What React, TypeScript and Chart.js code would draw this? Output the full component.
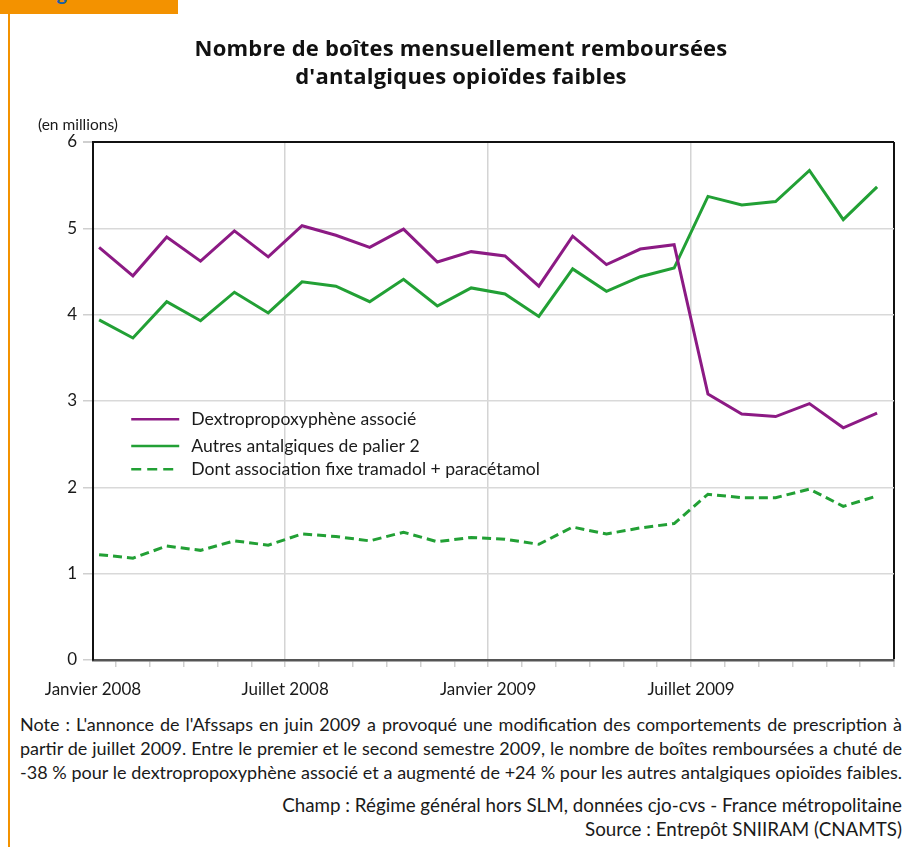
import React, { useEffect, useRef } from "react";
import { Chart, registerables } from "chart.js";

Chart.register(...registerables);

const months = [
  "Janvier 2008", "Février 2008", "Mars 2008", "Avril 2008", "Mai 2008", "Juin 2008",
  "Juillet 2008", "Août 2008", "Septembre 2008", "Octobre 2008", "Novembre 2008", "Décembre 2008",
  "Janvier 2009", "Février 2009", "Mars 2009", "Avril 2009", "Mai 2009", "Juin 2009",
  "Juillet 2009", "Août 2009", "Septembre 2009", "Octobre 2009", "Novembre 2009", "Décembre 2009",
];

const dextro = [4.78, 4.45, 4.90, 4.62, 4.97, 4.67, 5.03, 4.92, 4.78, 4.99, 4.61, 4.73, 4.68, 4.33, 4.91, 4.58, 4.76, 4.81, 3.08, 2.85, 2.82, 2.97, 2.69, 2.86];
const autres = [3.94, 3.73, 4.15, 3.93, 4.26, 4.02, 4.38, 4.33, 4.15, 4.41, 4.10, 4.31, 4.24, 3.98, 4.53, 4.27, 4.44, 4.54, 5.37, 5.27, 5.31, 5.67, 5.10, 5.48];
const tramadol = [1.22, 1.18, 1.32, 1.27, 1.38, 1.33, 1.46, 1.43, 1.38, 1.48, 1.37, 1.42, 1.40, 1.34, 1.54, 1.46, 1.53, 1.58, 1.92, 1.88, 1.88, 1.98, 1.78, 1.90];

const seriesNames = [
  "Dextropropoxyphène associé",
  "Autres antalgiques de palier 2",
  "Dont association fixe tramadol + paracétamol",
];

const labelMonths = ["Janvier 2008", "Juillet 2008", "Janvier 2009", "Juillet 2009"];

const PURPLE = "#8c1a84";
const GREEN = "#22a035";
const FONT = "Lato";
const X_MIN = -0.18;
const X_MAX = months.length - 0.5;

const legendPlugin = {
  id: "insideLegend",
  afterDraw(chart: any) {
    const { ctx, scales } = chart;
    const xs = scales.x;
    const ys = scales.y;
    const x0 = xs.getPixelForValue(0.95);
    const x1 = x0 + 48;
    const rowsY = [ys.getPixelForValue(2.79), ys.getPixelForValue(2.48), ys.getPixelForValue(2.21)];
    ctx.save();
    chart.data.datasets.forEach((ds: any, i: number) => {
      const y = rowsY[i];
      ctx.beginPath();
      ctx.strokeStyle = ds.borderColor;
      ctx.lineWidth = 2.5;
      ctx.setLineDash(ds.borderDash ? [10, 6] : []);
      ctx.moveTo(x0, y);
      ctx.lineTo(x1, y);
      ctx.stroke();
      ctx.setLineDash([]);
      ctx.fillStyle = "#1a1a1a";
      ctx.font = `17.6px ${FONT}`;
      ctx.textBaseline = "middle";
      ctx.textAlign = "left";
      ctx.fillText(ds.label, x1 + 12, y);
    });
    ctx.restore();
  },
};

export default function App() {
  const ref = useRef<HTMLCanvasElement | null>(null);

  useEffect(() => {
    if (!ref.current) return;
    const labelPositions = labelMonths.map((m) => Math.max(months.indexOf(m) - 0.5, X_MIN));
    const gridMarks = labelPositions.filter((v) => v > X_MIN);
    const mk = (arr: number[]) => arr.map((y, i) => ({ x: i, y }));
    const chart = new Chart(ref.current, {
      type: "line",
      data: {
        datasets: [
          { label: seriesNames[0], data: mk(dextro), borderColor: PURPLE, borderWidth: 3, pointRadius: 0, fill: false, tension: 0 },
          { label: seriesNames[1], data: mk(autres), borderColor: GREEN, borderWidth: 3, pointRadius: 0, fill: false, tension: 0 },
          { label: seriesNames[2], data: mk(tramadol), borderColor: GREEN, borderWidth: 3, borderDash: [9, 5], pointRadius: 0, fill: false, tension: 0 },
        ],
      },
      options: {
        animation: false,
        responsive: true,
        maintainAspectRatio: false,
        layout: { padding: { top: 142, right: 4, left: 0, bottom: 0 } },
        plugins: { legend: { display: false }, tooltip: { enabled: false }, title: { display: false } },
        scales: {
          x: {
            type: "linear",
            min: X_MIN,
            max: X_MAX,
            afterFit: (s: any) => { s.height = 40; },
            afterBuildTicks: (s: any) => {
              const t: any[] = [{ value: X_MIN }];
              for (let i = 0; i < months.length; i++) t.push({ value: i + 0.5 });
              s.ticks = t;
            },
            ticks: {
              autoSkip: false,
              maxRotation: 0,
              minRotation: 0,
              padding: 12,
              color: "#1a1a1a",
              font: { family: FONT, size: 17 },
              callback: (v: any) => {
                const idx = labelPositions.findIndex((p) => Math.abs(p - v) < 1e-6);
                return idx >= 0 ? labelMonths[idx] : "";
              },
            },
            grid: {
              drawOnChartArea: true,
              tickLength: 7,
              lineWidth: (c: any) => (Math.abs(c.tick?.value - X_MAX) < 1e-6 ? 2 : 1.5),
              color: (c: any) => {
                const v = c.tick?.value;
                if (v === undefined) return "transparent";
                if (Math.abs(v - X_MAX) < 1e-6) return "#111";
                if (gridMarks.some((g) => Math.abs(g - v) < 1e-6)) return "#d4d4d4";
                return "transparent";
              },
              tickColor: (c: any) => (Math.abs(c.tick?.value - X_MIN) < 1e-6 ? "transparent" : "#cfcfcf"),
            },
            border: { display: true, color: "#555", width: 2.5 },
          },
          y: {
            min: 0,
            max: 6,
            afterFit: (s: any) => { s.width = 93; },
            ticks: {
              stepSize: 1,
              padding: 6,
              color: "#1a1a1a",
              font: { family: FONT, size: 17 },
            },
            grid: {
              tickLength: 10,
              lineWidth: (c: any) => (c.tick?.value === 6 ? 2 : 1.5),
              color: (c: any) => {
                const v = c.tick?.value;
                if (v === 6) return "#111";
                if (v === 0) return "transparent";
                return "#d9d9d9";
              },
              tickColor: "#cfcfcf",
            },
            border: { display: true, color: "#111", width: 2 },
          },
        },
      },
      plugins: [legendPlugin],
    });
    return () => chart.destroy();
  }, []);

  const noteLine: React.CSSProperties = {
    position: "absolute",
    left: 20,
    width: 882,
    fontFamily: FONT,
    fontSize: 18,
    lineHeight: "24px",
    color: "#1a1a1a",
    textAlign: "justify",
    textAlignLast: "justify" as any,
    whiteSpace: "nowrap",
  };
  const rightLine: React.CSSProperties = {
    position: "absolute",
    right: 4,
    fontFamily: FONT,
    fontSize: 18.8,
    lineHeight: "24px",
    color: "#1a1a1a",
    textAlign: "right",
    whiteSpace: "nowrap",
  };

  return (
    <div style={{ position: "absolute", left: 0, top: 0, width: 906, height: 847, background: "#fff", overflow: "hidden" }}>
      <div style={{ position: "absolute", left: 0, top: 0, width: 178, height: 14, background: "#f39200", overflow: "hidden" }}>
        <div style={{ position: "absolute", left: 40, top: -20, fontFamily: FONT, fontWeight: 700, fontSize: 20, color: "#1b5fa3", lineHeight: "24px", whiteSpace: "nowrap" }}>Figure 1</div>
      </div>
      <div style={{ position: "absolute", left: 8, top: 14, width: 2, height: 833, background: "#f39200" }} />
      <div style={{ position: "absolute", left: 0, top: 0, width: 906, height: 700 }}>
        <canvas ref={ref} />
      </div>
      <div style={{ position: "absolute", left: 111, width: 700, top: 33, textAlign: "center", fontFamily: "Open Sans", fontWeight: 700, fontSize: 22, letterSpacing: "0.2px", lineHeight: "28px", color: "#111" }}>
        Nombre de boîtes mensuellement remboursées<br />d'antalgiques opioïdes faibles
      </div>
      <div style={{ position: "absolute", left: 38, top: 113, fontFamily: FONT, fontSize: 15.5, lineHeight: "22px", color: "#1a1a1a" }}>(en millions)</div>
      <div style={{ ...noteLine, top: 712 }}>Note : L'annonce de l'Afssaps en juin 2009 a provoqué une modification des comportements de prescription à</div>
      <div style={{ ...noteLine, top: 736 }}>partir de juillet 2009. Entre le premier et le second semestre 2009, le nombre de boîtes remboursées a chuté de</div>
      <div style={{ ...noteLine, top: 760 }}>-38 % pour le dextropropoxyphène associé et a augmenté de +24 % pour les autres antalgiques opioïdes faibles.</div>
      <div style={{ ...rightLine, top: 793 }}>Champ : Régime général hors SLM, données cjo-cvs - France métropolitaine</div>
      <div style={{ ...rightLine, top: 817 }}>Source : Entrepôt SNIIRAM (CNAMTS)</div>
    </div>
  );
}
